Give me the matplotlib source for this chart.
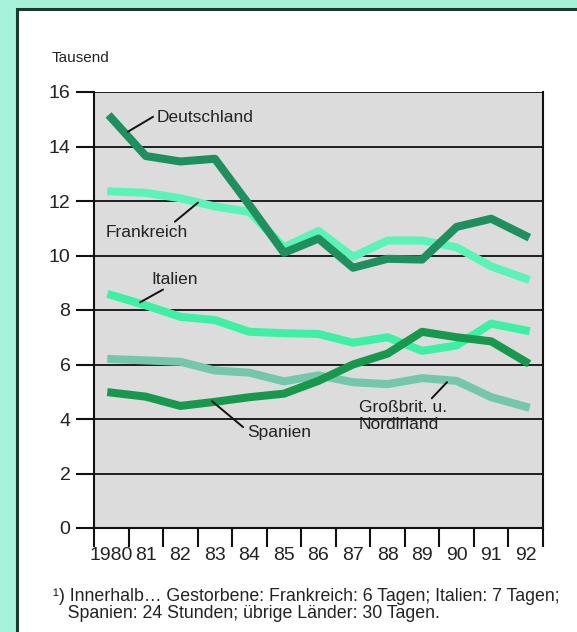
from __future__ import annotations

from dataclasses import dataclass

import matplotlib as mpl
import matplotlib.pyplot as plt
from matplotlib.patches import Rectangle


# =============================================================================
# Daten (Tausend Verkehrstote)
# =============================================================================
YEARS = ["1980", "81", "82", "83", "84", "85", "86", "87", "88", "89", "90", "91", "92"]

deutschland = [15.05, 13.65, 13.45, 13.55, 11.85, 10.1, 10.62, 9.55, 9.88, 9.85, 11.05, 11.35, 10.72]
frankreich = [12.35, 12.3, 12.1, 11.8, 11.6, 10.3, 10.9, 9.95, 10.55, 10.55, 10.3, 9.6, 9.15]
italien = [8.55, 8.17, 7.75, 7.63, 7.2, 7.15, 7.12, 6.8, 7.0, 6.5, 6.7, 7.5, 7.25]
spanien = [4.97, 4.82, 4.48, 4.63, 4.8, 4.93, 5.4, 6.0, 6.4, 7.2, 7.0, 6.85, 6.1]
grossbritannien = [6.2, 6.15, 6.1, 5.78, 5.7, 5.38, 5.6, 5.35, 5.28, 5.5, 5.4, 4.8, 4.45]

Y_TICKS = [0, 2, 4, 6, 8, 10, 12, 14, 16]

FOOTNOTE = (
    "¹) Innerhalb… Gestorbene: Frankreich: 6 Tagen; Italien: 7 Tagen;\n"
    "   Spanien: 24 Stunden; übrige Länder: 30 Tagen."
)


@dataclass(frozen=True)
class FigureParameters:
    width_px: int = 577
    height_px: int = 632
    dpi: int = 100
    page_color: str = "#a6f2da"
    frame_edge: str = "#1d3a30"
    plot_face: str = "#dcdcdc"
    c_deutschland: str = "#1f8f5e"
    c_spanien: str = "#18984c"
    c_frankreich: str = "#5cf3b8"
    c_italien: str = "#3ff0a4"
    c_gb: str = "#74c7ab"
    line_width: float = 5.8
    tick_size: float = 14
    label_size: float = 12.5


FP = FigureParameters()


def setup_style() -> None:
    mpl.rcParams.update(
        {
            "font.family": ["Liberation Sans", "DejaVu Sans"],
            "axes.unicode_minus": False,
            "text.color": "#222222",
        }
    )


def px_to_fig(x: float, y: float) -> tuple[float, float]:
    return x / FP.width_px, 1 - y / FP.height_px


def make_figure() -> None:
    setup_style()
    fig = plt.figure(figsize=(FP.width_px / FP.dpi, FP.height_px / FP.dpi), dpi=FP.dpi)
    fig.patch.set_facecolor(FP.page_color)

    # weisser Rahmen mit dunkler Kante (unter den Achsen)
    x0, y0 = px_to_fig(17, FP.height_px + 5)
    x1, y1 = px_to_fig(FP.width_px + 5, 9)
    fig.patches.append(
        Rectangle((x0, y0), x1 - x0, y1 - y0, transform=fig.transFigure,
                  facecolor="white", edgecolor=FP.frame_edge, linewidth=2.2, zorder=-5)
    )

    left, top = px_to_fig(94, 92)
    right, bottom = px_to_fig(543, 528)
    ax = fig.add_axes([left, bottom, right - left, top - bottom])
    ax.set_facecolor(FP.plot_face)

    x = list(range(len(YEARS)))
    ax.plot(x, grossbritannien, color=FP.c_gb, lw=FP.line_width, solid_joinstyle="round", zorder=3)
    ax.plot(x, italien, color=FP.c_italien, lw=FP.line_width, solid_joinstyle="round", zorder=4)
    ax.plot(x, frankreich, color=FP.c_frankreich, lw=FP.line_width, solid_joinstyle="round", zorder=4)
    ax.plot(x, spanien, color=FP.c_spanien, lw=FP.line_width, solid_joinstyle="round", zorder=5)
    ax.plot(x, deutschland, color=FP.c_deutschland, lw=FP.line_width, solid_joinstyle="round", zorder=6)

    ax.set_xlim(-0.5, len(YEARS) - 0.5)
    ax.set_ylim(0, 16)

    for y in Y_TICKS[1:]:
        ax.axhline(y, color="#111111", lw=1.3, zorder=2)

    ax.set_yticks(Y_TICKS)
    ax.set_yticklabels([str(v) for v in Y_TICKS])
    ax.set_xticks([i - 0.5 for i in range(len(YEARS) + 1)])
    ax.set_xticklabels([])
    ax.set_xticks(x, minor=True)
    ax.set_xticklabels(YEARS, minor=True)
    ax.tick_params(axis="x", which="major", direction="out", length=14, width=1.5, color="#111111")
    ax.tick_params(axis="x", which="minor", length=0, pad=14, labelsize=FP.tick_size, labelcolor="#222222")
    ax.tick_params(axis="y", direction="out", length=13, width=1.5, color="#111111",
                   pad=4, labelsize=FP.tick_size, labelcolor="#222222")

    for side in ("left", "right", "bottom"):
        ax.spines[side].set_color("#111111")
        ax.spines[side].set_linewidth(1.5)
    ax.spines["top"].set_visible(False)

    fig.text(*px_to_fig(52, 58), "Tausend", fontsize=11, ha="left", va="center")

    leader = dict(arrowstyle="-", color="#111111", lw=1.4, shrinkA=0, shrinkB=0)
    ax.annotate("", xy=(0.48, 14.54), xytext=(1.21, 15.09), arrowprops=leader, zorder=7)
    ax.text(1.31, 15.05, "Deutschland", fontsize=FP.label_size, ha="left", va="center", zorder=8)

    ax.annotate("", xy=(1.84, 11.24), xytext=(2.51, 11.94), arrowprops=leader, zorder=7)
    ax.text(1.04, 10.84, "Frankreich", fontsize=FP.label_size, ha="center", va="center", zorder=8)

    ax.annotate("", xy=(0.83, 8.28), xytext=(1.50, 8.75), arrowprops=leader, zorder=7)
    ax.text(1.84, 9.12, "Italien", fontsize=FP.label_size, ha="center", va="center", zorder=8)

    ax.annotate("", xy=(2.92, 4.65), xytext=(3.82, 3.70), arrowprops=leader, zorder=7)
    ax.text(3.93, 3.52, "Spanien", fontsize=FP.label_size, ha="left", va="center", zorder=8)

    ax.annotate("", xy=(9.72, 5.35), xytext=(9.28, 4.76), arrowprops=leader, zorder=7)
    ax.text(7.17, 4.1, "Großbrit. u.\nNordirland", fontsize=FP.label_size, ha="left", va="center",
            linespacing=1.2, zorder=8)

    fig.text(*px_to_fig(53, 605), FOOTNOTE, fontsize=12.8, ha="left", va="center", linespacing=1.05)

    fig.savefig("out.png", dpi=FP.dpi, facecolor=fig.get_facecolor())
    plt.close(fig)


if __name__ == "__main__":
    make_figure()
